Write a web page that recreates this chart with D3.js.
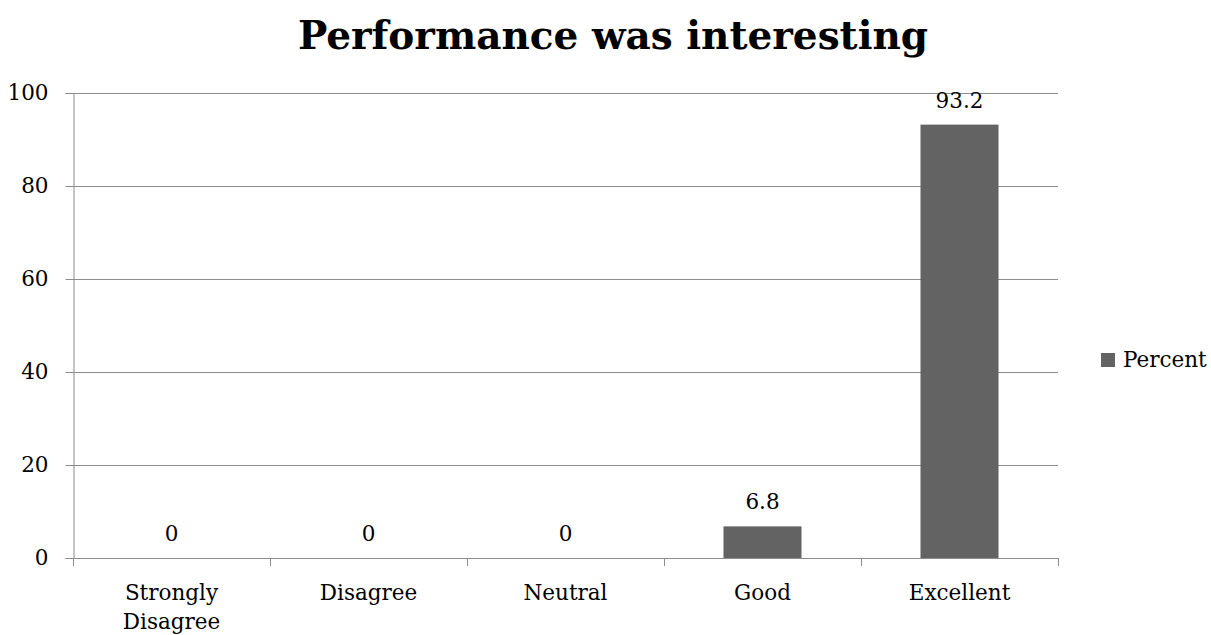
<!DOCTYPE html>
<html>
<head>
<meta charset="utf-8">
<script src="https://cdn.jsdelivr.net/npm/d3@7"></script>
<style>
  body { margin: 0; background: #fff; }
  svg text { font-family: "DejaVu Serif", "Liberation Serif", serif; fill: #000; }
</style>
</head>
<body>
<svg id="chart" width="1211" height="635"></svg>
<script>
const categories = ["Strongly Disagree", "Disagree", "Neutral", "Good", "Excellent"];
const percentValues = [0, 0, 0, 6.8, 93.2];
const yTickValues = [0, 20, 40, 60, 80, 100];
const seriesName = "Percent";
const chartTitle = "Performance was interesting";

(function () {
const svg = d3.select("#chart");
const mLeft = 73, mRight = 1058, mTop = 93, mBottom = 558;
const barColor = "#636363";
const gridColor = "#8c8c8c";
const fs = 21.5;

const x = d3.scaleBand().domain(categories).range([mLeft, mRight]).paddingInner(0.604).paddingOuter(0.302);
const xBand = d3.scaleBand().domain(categories).range([mLeft, mRight]).padding(0);
const y = d3.scaleLinear().domain([0, 100]).range([mBottom, mTop]);

// gridlines
svg.append("g").selectAll("line").data(yTickValues.filter(d => d > 0)).join("line")
  .attr("x1", mLeft).attr("x2", mRight)
  .attr("y1", d => Math.round(y(d)) + 0.5).attr("y2", d => Math.round(y(d)) + 0.5)
  .attr("stroke", gridColor).attr("stroke-width", 1);

// bars
svg.append("g").selectAll("rect").data(categories).join("rect")
  .attr("x", d => x(d))
  .attr("width", x.bandwidth())
  .attr("y", (d, i) => y(percentValues[i]))
  .attr("height", (d, i) => y(0) - y(percentValues[i]))
  .attr("fill", barColor);

// y axis
const yAxis = d3.axisLeft(y).tickValues(yTickValues).tickSize(8).tickPadding(17);
const gy = svg.append("g").attr("transform", `translate(${mLeft + 0.5},0)`).call(yAxis);
gy.select(".domain").attr("stroke", gridColor);
gy.selectAll(".tick line").attr("stroke", gridColor);
gy.selectAll(".tick text").attr("font-size", fs).attr("font-family", "DejaVu Serif").attr("fill", "#000");

// x axis line & ticks at band boundaries
const gx = svg.append("g");
gx.append("line").attr("x1", mLeft).attr("x2", mRight)
  .attr("y1", mBottom + 0.5).attr("y2", mBottom + 0.5).attr("stroke", gridColor);
const bounds = categories.map(c => xBand(c)).concat([mRight]);
gx.selectAll("line.tk").data(bounds).join("line").attr("class", "tk")
  .attr("x1", d => Math.round(d) + 0.5).attr("x2", d => Math.round(d) + 0.5)
  .attr("y1", mBottom).attr("y2", mBottom + 8).attr("stroke", gridColor);

// category labels
const catText = gx.selectAll("text.cat").data(categories).join("text").attr("class", "cat")
  .attr("text-anchor", "middle").attr("font-size", fs)
  .attr("x", d => xBand(d) + xBand.bandwidth() / 2)
  .attr("y", 600);
catText.each(function(d) {
  const words = d.split(" ");
  const t = d3.select(this);
  if (words.length > 1) {
    words.forEach((w, i) => t.append("tspan").attr("x", xBand(d) + xBand.bandwidth() / 2).attr("dy", i === 0 ? 0 : 29).text(w));
  } else {
    t.text(d);
  }
});

// data labels
svg.append("g").selectAll("text").data(categories).join("text")
  .attr("text-anchor", "middle").attr("font-size", fs)
  .attr("x", d => x(d) + x.bandwidth() / 2)
  .attr("y", (d, i) => y(percentValues[i]) - 17)
  .text((d, i) => String(percentValues[i]));

// title
svg.append("text").attr("x", 613).attr("y", 49).attr("text-anchor", "middle")
  .attr("font-size", 39).attr("font-weight", "bold").text(chartTitle);

// legend
svg.append("rect").attr("x", 1101).attr("y", 353).attr("width", 14).attr("height", 14).attr("fill", barColor);
svg.append("text").attr("x", 1123).attr("y", 367).attr("font-size", fs).text(seriesName);
})();
</script>
</body>
</html>
